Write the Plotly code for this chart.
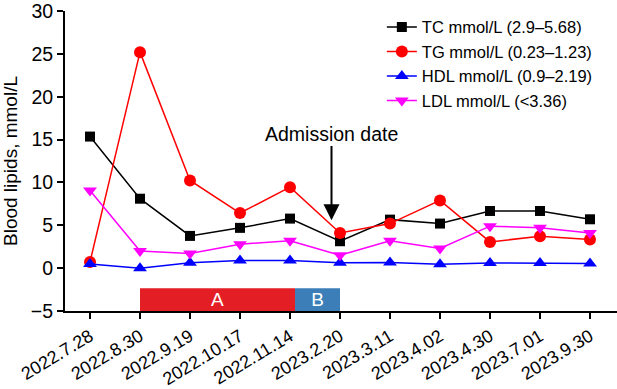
import plotly.graph_objects as go

dates = ["2022.7.28", "2022.8.30", "2022.9.19", "2022.10.17", "2022.11.14",
         "2023.2.20", "2023.3.11", "2023.4.02", "2023.4.30", "2023.7.01", "2023.9.30"]
tc = [15.35, 8.1, 3.76, 4.7, 5.78, 3.14, 5.66, 5.2, 6.67, 6.67, 5.7]
tg = [0.73, 25.2, 10.23, 6.43, 9.45, 4.1, 5.2, 7.9, 3.06, 3.72, 3.33]
hdl = [0.47, 0.0, 0.62, 0.9, 0.9, 0.62, 0.65, 0.45, 0.6, 0.6, 0.55]
ldl = [9.07, 2.0, 1.7, 2.8, 3.2, 1.5, 3.2, 2.3, 4.9, 4.7, 4.1]

series_names = ["TC mmol/L (2.9–5.68)", "TG mmol/L (0.23–1.23)",
                "HDL mmol/L (0.9–2.19)", "LDL mmol/L (<3.36)"]

phase_labels = ["A", "B"]
phase_start = [1.0, 4.1]
phase_end = [4.1, 5.0]
phase_low = -5.0
phase_high = -2.36

admission_index = 4.83
admission_tip = 5.6
admission_text_y = 15.7

xs = list(range(len(dates)))
FONT = "Liberation Sans, Arial, sans-serif"

fig = go.Figure()

styles = [
    (tc, "black", "square", 10),
    (tg, "#FF0000", "circle", 12),
    (hdl, "#0000FF", "triangle-up", 12),
    (ldl, "#FF00FF", "triangle-down", 12),
]
for (vals, col, sym, sz), name in zip(styles, series_names):
    fig.add_trace(go.Scatter(
        x=xs, y=vals, name=name, mode="lines+markers",
        line=dict(color=col, width=1.5),
        marker=dict(symbol=sym, size=sz, color=col),
        cliponaxis=False,
    ))

phase_colors = ["#E31E24", "#3C7FB8"]
for lab, s, e, col in zip(phase_labels, phase_start, phase_end, phase_colors):
    fig.add_trace(go.Bar(
        orientation="h",
        y=[(phase_low + phase_high) / 2], x=[e - s], base=[s],
        width=[phase_high - phase_low],
        marker=dict(color=col, line=dict(width=0)),
        text=[lab], textposition="inside", insidetextanchor="middle",
        constraintext="none", textangle=0,
        textfont=dict(color="white", size=19, family=FONT),
        showlegend=False, hoverinfo="skip",
    ))

fig.add_annotation(
    x=admission_index, y=admission_tip, ax=admission_index, ay=admission_text_y,
    xref="x", yref="y", axref="x", ayref="y",
    text="Admission date", showarrow=True,
    arrowhead=2, arrowsize=1.6, arrowwidth=2, arrowcolor="black",
    font=dict(size=19.5, color="black", family=FONT),
)

fig.update_layout(
    width=617, height=389,
    margin=dict(l=65, r=0, t=11, b=78),
    plot_bgcolor="white", paper_bgcolor="white",
    font=dict(family=FONT, color="black", size=16),
    barmode="overlay",
    showlegend=True,
    legend=dict(x=0.574, y=1.004, xanchor="left", yanchor="top",
                bgcolor="rgba(0,0,0,0)", font=dict(size=16.5),
                tracegroupgap=0),
)
fig.update_xaxes(
    range=[-0.5, 10.54], tickvals=xs, ticktext=dates, tickangle=-31,
    showline=True, linecolor="black", linewidth=2,
    ticks="outside", ticklen=6, tickwidth=2, tickcolor="black",
    showgrid=False, zeroline=False, tickfont=dict(size=18), automargin=False,
    ticklabeloverflow="allow",
)
fig.update_yaxes(
    range=[-5, 30], tickvals=[-5, 0, 5, 10, 15, 20, 25, 30],
    showline=True, linecolor="black", linewidth=2,
    ticks="outside", ticklen=6, tickwidth=2, tickcolor="black",
    showgrid=False, zeroline=False, tickfont=dict(size=19.5), automargin=False,
    ticklabeloverflow="allow",
    title=dict(text="Blood lipids, mmol/L", font=dict(size=19), standoff=10),
)

fig.write_html("out.html", config={"displayModeBar": False},
               post_script="document.body.style.margin='0';")
